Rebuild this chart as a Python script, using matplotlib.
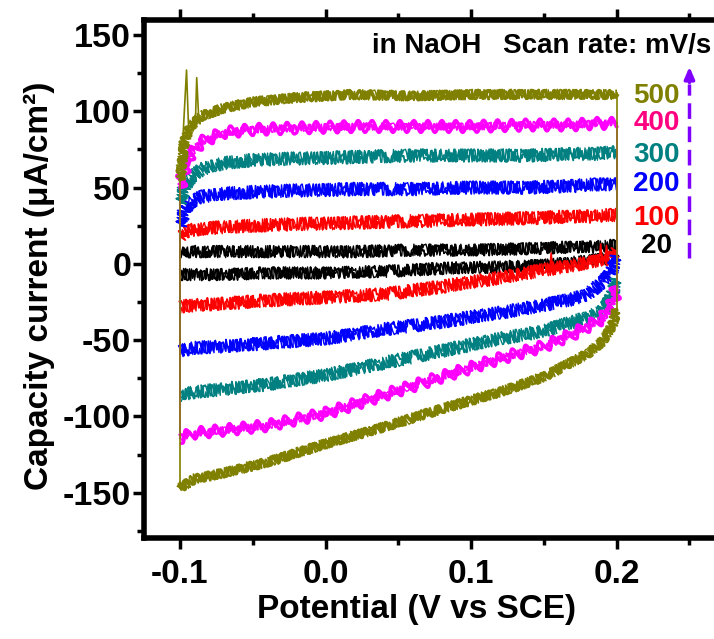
import matplotlib
matplotlib.use('Agg')
import matplotlib.pyplot as plt
from matplotlib.ticker import MultipleLocator

plt.rcParams['font.family'] = ['Liberation Sans', 'DejaVu Sans']
plt.rcParams['font.weight'] = 'bold'
plt.rcParams['axes.unicode_minus'] = False

# potential grid (V vs SCE): forward sweep and reverse sweep
pot_fwd = [-0.1, -0.097, -0.093, -0.085, -0.07, -0.05, -0.02, 0.02, 0.06, 0.10, 0.14, 0.17, 0.185, 0.195, 0.2]
pot_rev = [0.2, 0.198, 0.195, 0.19, 0.18, 0.17, 0.15, 0.12, 0.08, 0.04, 0.0, -0.04, -0.07, -0.09, -0.1]

scan_rates = ['500', '400', '300', '200', '100', '20']
line_colors = ['#808000', '#ff00ff', '#008080', '#0000ff', '#ff0000', '#000000']
label_colors = ['#808000', '#ff0080', '#008080', '#0000ff', '#ff0000', '#000000']

# anodic (forward) currents, uA/cm2
fwd_500 = [55, 80, 90, 97, 102, 106, 109, 111, 110, 111, 111, 111, 111, 111, 112]
fwd_400 = [50, 62, 72, 80, 86, 88, 89, 90, 90, 90, 91, 91, 92, 92, 92]
fwd_300 = [40, 50, 56, 62, 66, 68, 69, 70, 71, 71, 71, 72, 72, 73, 73]
fwd_200 = [25, 35, 40, 44, 46, 47, 48, 49, 49, 50, 50, 51, 52, 52, 52]
fwd_100 = [18, 21, 22, 23, 24, 25, 26, 27, 28, 29, 30, 31, 31, 32, 32]
fwd_20 = [8, 8, 8, 8, 8, 8, 8, 8, 9, 9, 10, 11, 11, 12, 12]

# cathodic (reverse) currents, uA/cm2
rev_500 = [-30, -38, -44, -51, -59, -64, -74, -84, -95, -107, -118, -130, -137, -141, -147]
rev_400 = [-15, -24, -30, -36, -41, -46, -54, -62, -74, -86, -98, -106, -109, -111, -114]
rev_300 = [-10, -18, -24, -31, -35, -38, -44, -49, -57, -65, -73, -79, -82, -84, -86]
rev_200 = [5, -2, -7, -12, -20, -23, -27, -32, -38, -43, -49, -52, -54, -55, -57]
rev_100 = [8, 6, 4, 2, 1, -1, -4, -9, -15, -20, -22, -24, -26, -27, -28]
rev_20 = [8, 5, 4, 3, 2, 1, -1, -2, -3, -5, -6, -6, -7, -7, -7]

fwd = [fwd_500, fwd_400, fwd_300, fwd_200, fwd_100, fwd_20]
rev = [rev_500, rev_400, rev_300, rev_200, rev_100, rev_20]

# start-up spikes on the 500 mV/s trace
spike_x = [-0.098, -0.0955, -0.094, -0.0895, -0.0885, -0.087]
spike_y = [82, 127, 86, 90, 122, 93]

# spikes on the 100 mV/s reverse sweep
red_spike_x = [0.154, 0.155, 0.156, 0.188, 0.189, 0.19, 0.192, 0.193, 0.194]
red_spike_y = [-4, 7, -4, 1, 13, 2, 3, 12, 4]

# label positions next to the curve ends
label_x = 0.2275
label_y = [110, 92, 71, 52, 30, 12]

# trace texture: fine noise for all, a slow ripple on the two fastest scans
noise = [5, 3.5, 6.5, 6.5, 6.5, 6]
ripple = [(4, 11, 1.2), (6, 14, 1.05), None, None, None, None]

fig = plt.figure(figsize=(7.14, 6.39), dpi=100)
ax = fig.add_axes([0.2011, 0.1573, 0.8155, 0.8119])

for i in range(len(scan_rates)):
    c = line_colors[i]
    z = 10 - i
    for xs, ys in [(pot_fwd, fwd[i]), (pot_rev, rev[i])]:
        # two noise passes with different step lengths to fill the band
        for length, rnd, lw in [(1.5, 3, 1.3), (1.1, 2, 1.0)]:
            ln, = ax.plot(xs, ys, color=c, lw=lw, zorder=z)
            ln.set_sketch_params(noise[i], length, rnd)
        if ripple[i] is not None:
            ln2, = ax.plot(xs, ys, color=c, lw=2.4, zorder=z)
            ln2.set_sketch_params(*ripple[i])
    # the vertical switching segments
    ax.plot([pot_rev[-1], pot_fwd[0]], [rev[i][-1], fwd[i][0]], color=c, lw=1.2, zorder=z)
    ax.plot([pot_fwd[-1], pot_rev[0]], [fwd[i][-1], rev[i][0]], color=c, lw=1.2, zorder=z)

ax.plot(spike_x, spike_y, color=line_colors[0], lw=1.2, zorder=10)
ax.plot(red_spike_x, red_spike_y, color=line_colors[4], lw=1.2, zorder=6)

for i in range(len(scan_rates)):
    ax.text(label_x, label_y[i], scan_rates[i], color=label_colors[i], fontsize=20,
            ha='center', va='center', fontweight='bold')

ax.text(0.032, 143, 'in NaOH', fontsize=20, ha='left', va='center')
ax.text(0.122, 143, 'Scan rate: mV/s', fontsize=20, ha='left', va='center')

# increasing scan rate arrow
ax.plot([0.25, 0.25], [4, 118], color='#8000ff', lw=2.5, ls=(0, (4.5, 2.2)))
ax.annotate('', xy=(0.25, 131), xytext=(0.25, 117),
            arrowprops=dict(arrowstyle='-|>,head_length=0.7,head_width=0.3',
                            color='#8000ff', lw=2.5))

ax.set_xlim(-0.125, 0.275)
ax.set_ylim(-180, 160)
ax.set_xticks([-0.1, 0.0, 0.1, 0.2])
ax.set_xticklabels(['-0.1', '0.0', '0.1', '0.2'])
ax.set_yticks([-150, -100, -50, 0, 50, 100, 150])
ax.set_yticklabels(['-150', '-100', '-50', '0', '50', '100', '150'])
ax.xaxis.set_minor_locator(MultipleLocator(0.05))
ax.yaxis.set_minor_locator(MultipleLocator(25))

for s in ax.spines.values():
    s.set_linewidth(4)
ax.tick_params(which='both', direction='out', top=True, right=True, width=2.5)
ax.tick_params(which='major', length=8)
ax.tick_params(which='minor', length=5)
ax.tick_params(axis='x', labelsize=24, pad=7)
ax.tick_params(axis='y', labelsize=24.5, pad=1)

ax.set_xlabel('Potential (V vs SCE)', fontsize=24, fontweight='bold')
ax.set_ylabel('Capacity current (μA/cm²)', fontsize=24, fontweight='bold')
ax.xaxis.set_label_coords(0.4687, -0.107)
ax.yaxis.set_label_coords(-0.152, 0.487)

fig.savefig('out.png', dpi=100)
